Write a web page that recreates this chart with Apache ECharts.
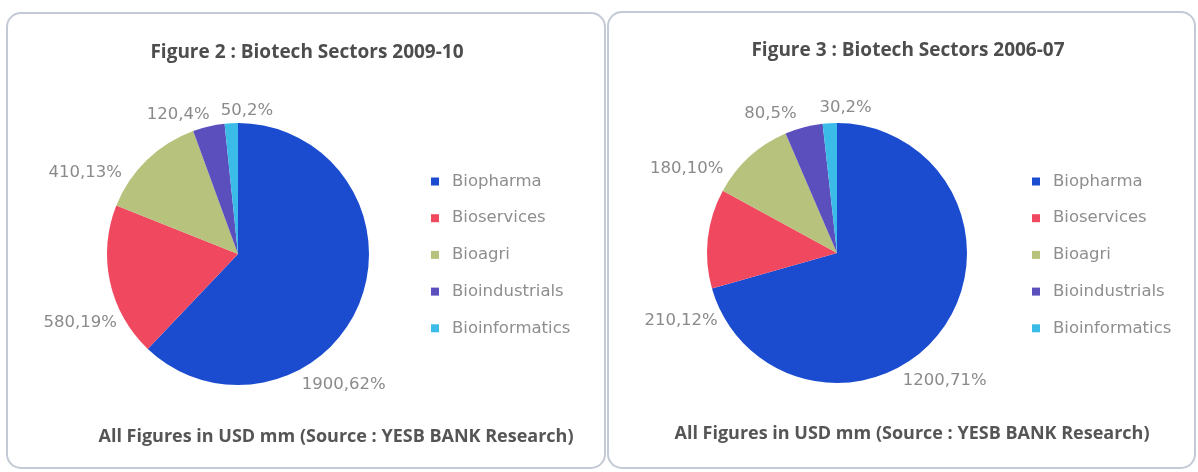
<!DOCTYPE html>
<html>
<head>
<meta charset="utf-8">
<script src="https://cdn.jsdelivr.net/npm/echarts@6/dist/echarts.min.js"></script>
<style>
  html, body { margin: 0; padding: 0; background: #ffffff; }
  #chart { width: 1198px; height: 472px; }
</style>
</head>
<body>
<div id="chart"></div>
<script>
// ---- data ----
const categories = ['Biopharma', 'Bioservices', 'Bioagri', 'Bioindustrials', 'Bioinformatics'];
const values2009 = [1900, 580, 410, 120, 50];
const values2006 = [1200, 210, 180, 80, 30];
const title2009 = 'Figure 2 : Biotech Sectors 2009-10';
const title2006 = 'Figure 3 : Biotech Sectors 2006-07';
const footnote = 'All Figures in USD mm (Source : YESB BANK Research)';

// ---- style / layout constants ----
const palette = ['#1b4cd0', '#f0485f', '#b7c27c', '#5a4fbd', '#3bbbe8'];
// label nudges (dx, dy) from the library's default outside position
const labelShift2009 = [[-63, 82], [12, 41], [-20, 13], [6, -12], [47, -12]];
const labelShift2006 = [[-43, 49], [15, 82], [-21, 12], [-2, -14], [47, -15]];

const chart = echarts.init(document.getElementById('chart'), null, { renderer: 'canvas' });

function pieSeries(values, center, radius, shifts) {
  return {
    type: 'pie',
    center: center,
    radius: radius,
    startAngle: 90,
    clockwise: true,
    silent: true,
    avoidLabelOverlap: false,
    percentPrecision: 0,
    data: categories.map((n, i) => ({ name: n, value: values[i] })),
    itemStyle: { borderWidth: 0 },
    label: {
      show: true,
      position: 'outside',
      formatter: p => p.value + ',' + p.percent + '%',
      fontFamily: 'DejaVu Sans',
      fontSize: 16.5,
      color: '#8a8a8a'
    },
    labelLine: { show: false, length: 0, length2: 0 },
    labelLayout: function (params) {
      const s = shifts[params.dataIndex];
      return { dx: s[0], dy: s[1] };
    },
    emphasis: { disabled: true }
  };
}

function legendAt(left) {
  return {
    data: categories,
    orient: 'vertical',
    left: left,
    top: 173,
    itemWidth: 8,
    itemHeight: 8,
    itemGap: 19.7,
    icon: 'rect',
    selectedMode: false,
    padding: 0,
    textStyle: { fontFamily: 'DejaVu Sans', fontSize: 16.5, color: '#8e8e8e', padding: [0, 0, 0, 8] }
  };
}

function titleAt(text, x, y, size, color) {
  return {
    text: text,
    left: x,
    top: y,
    padding: 0,
    textAlign: 'center',
    textVerticalAlign: 'middle',
    textStyle: { fontFamily: 'Open Sans', fontWeight: 'bold', fontSize: size, color: color }
  };
}

chart.setOption({
  animation: false,
  backgroundColor: '#ffffff',
  color: palette,
  title: [
    titleAt(title2009, 307, 53, 19, '#4d4d4d'),
    titleAt(title2006, 908, 51, 19, '#4d4d4d'),
    titleAt(footnote, 336, 437, 18, '#555555'),
    titleAt(footnote, 912, 434, 18, '#555555')
  ],
  legend: [legendAt(431), legendAt(1032)],
  graphic: [
    { type: 'rect', silent: true, shape: { x: 7, y: 13, width: 598, height: 455, r: 14 },
      style: { fill: 'none', stroke: '#c3cad6', lineWidth: 2 } },
    { type: 'rect', silent: true, shape: { x: 608, y: 12, width: 587, height: 456, r: 14 },
      style: { fill: 'none', stroke: '#c3cad6', lineWidth: 2 } }
  ],
  series: [
    pieSeries(values2009, [238, 254], 131, labelShift2009),
    pieSeries(values2006, [837, 253], 130, labelShift2006)
  ]
});
</script>
</body>
</html>
